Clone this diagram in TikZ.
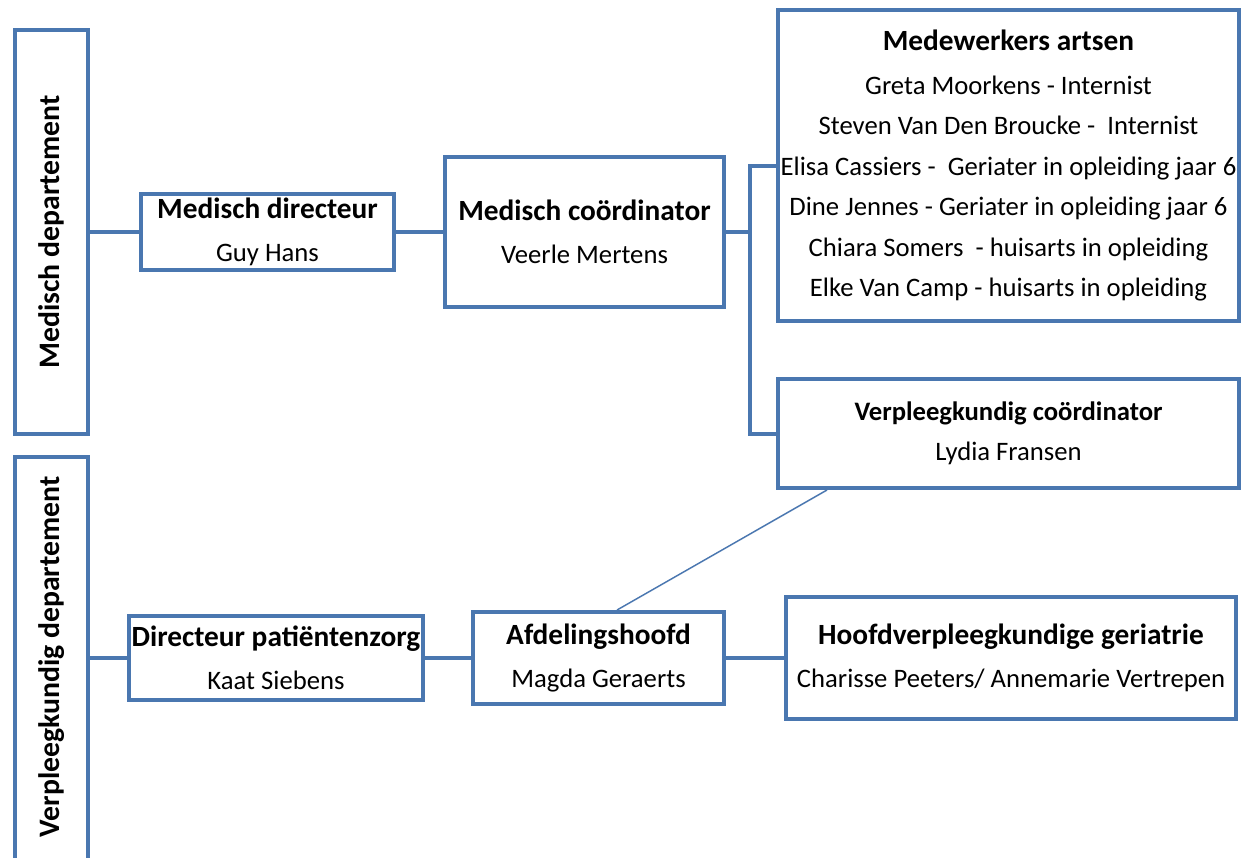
\documentclass[tikz,border=0pt]{standalone}
\usepackage{fontspec}
\setmainfont{Carlito}
\definecolor{ob}{RGB}{74,119,176}
\newcommand{\ttl}[1]{{\bfseries\fontsize{22}{32}\selectfont #1}}
\begin{document}
\begin{tikzpicture}[x=0.75pt,y=-0.75pt,
  box/.style={draw=ob,line width=3pt,rectangle,inner sep=0pt,align=center,
    font=\fontsize{20}{32}\selectfont},
  conn/.style={draw=ob,line width=3pt},
  thin/.style={draw=ob,line width=1.1pt},
  vlabel/.style={rotate=90,inner sep=0pt,font=\bfseries\fontsize{22.3}{26}\selectfont}]
\clip (0,0) rectangle (1241,857);
\fill[white] (0,0) rectangle (1241,857);
% department boxes
\node[box,minimum width=54.75pt,minimum height=303pt] (mdep) at (51.5,232) {};
\node[vlabel] (mdeptxt) at (51.5,232) {Medisch departement};
\node[box,minimum width=54.75pt,minimum height=332.25pt] (vdep) at (51.5,678.5) {};
\node[vlabel] (vdeptxt) at (51.5,657) {Verpleegkundig departement};
% medical branch
\node[box,minimum width=189.75pt,minimum height=57pt] (mdir) at (267.5,232)
  {\ttl{Medisch directeur}\\Guy Hans};
\node[box,minimum width=209.25pt,minimum height=112.5pt] (mco) at (584.5,232)
  {\ttl{Medisch coördinator}\\Veerle Mertens};
\node[box,minimum width=345.75pt,minimum height=233.25pt,
  font=\fontsize{20}{30.4}\selectfont] (mw) at (1008.5,165.5)
  {\ttl{Medewerkers artsen}\\[2.6pt]
   Greta Moorkens - Internist\\
   Steven Van Den Broucke -\ \ Internist\\
   Elisa Cassiers -\ \ Geriater in opleiding jaar 6\\
   Dine Jennes - Geriater in opleiding jaar 6\\
   Chiara Somers\ \ - huisarts in opleiding\\
   Elke Van Camp - huisarts in opleiding};
\node[box,minimum width=345.75pt,minimum height=81.75pt,
  font=\fontsize{20}{30}\selectfont] (vco) at (1008.5,433.5)
  {\textbf{Verpleegkundig coördinator}\\Lydia Fransen};
% nursing branch
\node[box,minimum width=220.5pt,minimum height=63pt] (dpz) at (276,658)
  {\ttl{Directeur patiëntenzorg}\\Kaat Siebens};
\node[box,minimum width=188.25pt,minimum height=69pt] (afd) at (598.5,658)
  {\ttl{Afdelingshoofd}\\Magda Geraerts};
\node[box,minimum width=337.5pt,minimum height=91.5pt] (hvg) at (1011,658)
  {\ttl{Hoofdverpleegkundige geriatrie}\\Charisse Peeters/ Annemarie Vertrepen};
% connectors
\coordinate (bus) at (750,232);
\draw[conn] (mdep.east) -- (mdir.west);
\draw[conn] (mdir.east) -- (mco.west);
\draw[conn] (mco.east) -- (bus);
\draw[conn] (mw.west) -| (bus) |- (vco.west);
\draw[conn] (vdep.east |- dpz.west) -- (dpz.west);
\draw[conn] (dpz.east) -- (afd.west);
\draw[conn] (afd.east) -- (hvg.west);
\draw[thin] ([xshift=38.25pt]vco.south west) -- ([xshift=13.9pt]afd.north);
\end{tikzpicture}
\end{document}
